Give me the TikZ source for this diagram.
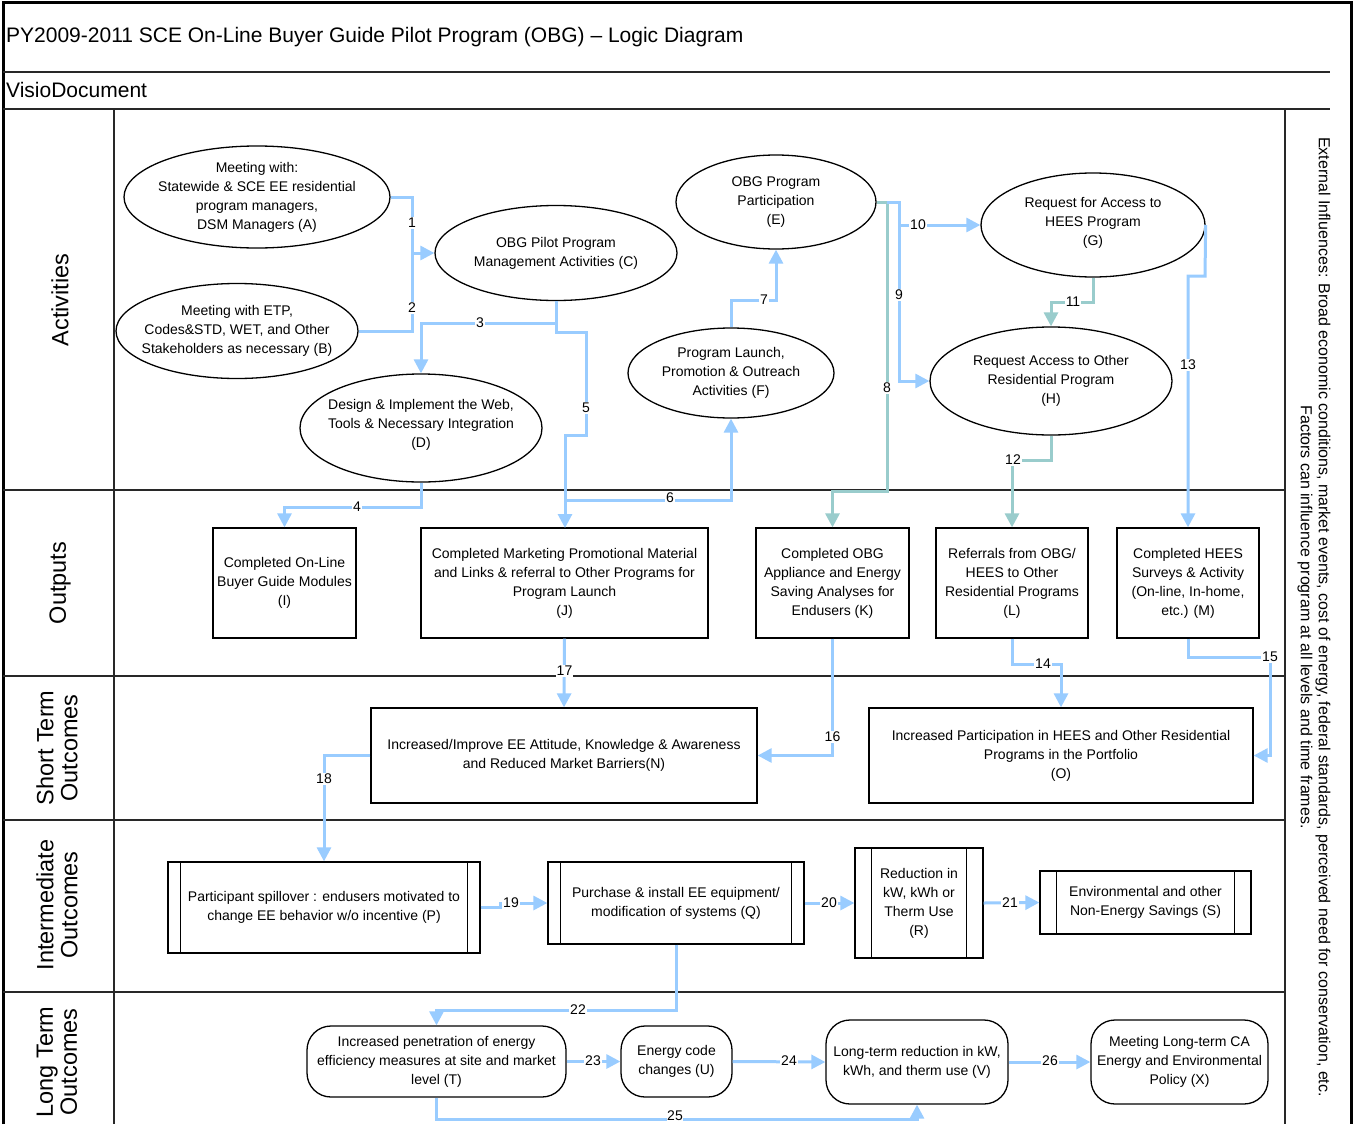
\documentclass[tikz,border=0pt]{standalone}
\usepackage{fontspec}
\setmainfont{Liberation Sans}
\usetikzlibrary{shapes.geometric,arrows.meta,calc}

\definecolor{linkblue}{RGB}{153,204,255}
\definecolor{linkteal}{RGB}{153,204,204}
\definecolor{framegray}{RGB}{40,40,40}

\begin{document}
\begin{tikzpicture}[x=1pt,y=-1pt,
  every node/.style={font=\fontsize{14}{19}\selectfont},
  frame/.style={draw=framegray,line width=1.6pt},
  outer/.style={draw=black,line width=3pt},
  actv/.style={ellipse,draw=black,line width=1.3pt,fill=white,inner sep=0pt},
  txt/.style={align=center,inner sep=0pt},
  outbox/.style={rectangle,draw=black,line width=1.3pt,fill=white,align=center,inner sep=0pt},
  procbox/.style={rectangle,draw=black,line width=1.3pt,fill=white,align=center,inner sep=0pt},
  termbox/.style={rectangle,rounded corners=24pt,draw=black,line width=1.3pt,fill=white,align=center,inner sep=0pt},
  bluelink/.style={draw=linkblue,line width=3pt},
  teallink/.style={draw=linkteal,line width=3pt},
  tip/.style={-{Triangle[length=14pt,width=14pt]}},
  lab/.style={fill=white,inner sep=1pt,font=\fontsize{14}{14}\selectfont},
  lane/.style={rotate=90,align=center,font=\fontsize{23.5}{24}\selectfont}
]
\useasboundingbox (0,0) rectangle (1356,1124);
\fill[white] (0,0) rectangle (1356,1124);

% page frame and header rules
\draw[outer] (3,1124) -- (3,3) -- (1351,3) -- (1351,1124);
\draw[frame] (3,72) -- (1330,72);
\draw[frame] (3,109) -- (1330,109);
\draw[frame] (1285,109) -- (1285,1124);
\draw[frame] (114,109) -- (114,1124);
\foreach \yy in {490,676,820,992} \draw[frame] (3,\yy) -- (1285,\yy);

\node[anchor=west,inner sep=0pt,font=\fontsize{21}{24}\selectfont] (title) at (6,37)
  {PY2009-2011 SCE On-Line Buyer Guide Pilot Program (OBG) – Logic Diagram};
\node[anchor=west,inner sep=0pt,font=\fontsize{21}{24}\selectfont] (doc) at (6,90) {VisioDocument};

% lane headings
\node[lane] (laneA) at (60,300) {Activities};
\node[lane] (laneO) at (60,583) {Outputs};
\node[lane] (laneS) at (57,748) {Short Term\\Outcomes};
\node[lane] (laneI) at (57,905) {Intermediate\\Outcomes};
\node[lane] (laneL) at (57,1062) {Long Term\\Outcomes};

% external influences
\node[rotate=-90,align=center,font=\fontsize{16}{18}\selectfont] (ext) at (1314,617)
  {External Influences: Broad economic conditions, market events, cost of energy, federal standards, perceived need for conservation, etc.\\
   Factors can influence program at all levels and time frames.};

% ---------- connectors ----------
\coordinate (j1) at (412,253);
\coordinate (j6) at (565,500);
\coordinate (e8) at (887,202);
\coordinate (e9) at (899,202);

% activity nodes are placed first so anchors exist
\node[actv,minimum width=266pt,minimum height=102pt] (A) at (257,197) {};
\node[actv,minimum width=242pt,minimum height=95pt] (B) at (237,331) {};
\node[actv,minimum width=242pt,minimum height=95pt] (C) at (556,253) {};
\node[actv,minimum width=242pt,minimum height=108pt] (D) at (421,428) {};
\node[actv,minimum width=200pt,minimum height=94pt] (E) at (776,202) {};
\node[actv,minimum width=206pt,minimum height=90pt] (F) at (731,373) {};
\node[actv,minimum width=224pt,minimum height=104pt] (G) at (1093,225) {};
\node[actv,minimum width=242pt,minimum height=108pt] (H) at (1051,381) {};

\node[outbox,minimum width=143pt,minimum height=110pt] (I) at (284.5,583)
  {Completed On-Line\\Buyer Guide Modules\\(I)};
\node[outbox,minimum width=287pt,minimum height=110pt] (J) at (564.5,583)
  {Completed Marketing Promotional Material\\and Links \& referral to Other Programs for\\Program Launch\\(J)};
\node[outbox,minimum width=153pt,minimum height=110pt] (K) at (832.5,583)
  {Completed OBG\\Appliance and Energy\\Saving Analyses for\\Endusers (K)};
\node[outbox,minimum width=152pt,minimum height=110pt] (L) at (1012,583)
  {Referrals from OBG/\\HEES to Other\\Residential Programs\\(L)};
\node[outbox,minimum width=142pt,minimum height=110pt] (M) at (1188,583)
  {Completed HEES\\Surveys \& Activity\\(On-line, In-home,\\etc.) (M)};

\node[outbox,minimum width=386pt,minimum height=95pt] (N) at (564,755.5)
  {Increased/Improve EE Attitude, Knowledge \& Awareness\\and Reduced Market Barriers(N)};
\node[outbox,minimum width=384pt,minimum height=95pt] (O) at (1061,755.5)
  {Increased Participation in HEES and Other Residential\\Programs in the Portfolio\\(O)};

\node[procbox,minimum width=312pt,minimum height=91pt] (P) at (324,907.5)
  {Participant spillover : endusers motivated to\\change EE behavior w/o incentive (P)};
\node[procbox,minimum width=256pt,minimum height=82pt] (Q) at (676,903)
  {Purchase \& install EE equipment/\\modification of systems (Q)};
\node[procbox,minimum width=128pt,minimum height=110pt] (R) at (919,903)
  {Reduction in\\kW, kWh or\\Therm Use\\(R)};
\node[procbox,minimum width=211pt,minimum height=63pt] (S) at (1145.5,902.5)
  {Environmental and other\\Non-Energy Savings (S)};

\node[termbox,minimum width=259pt,minimum height=71pt] (T) at (436.5,1061.5)
  {Increased penetration of energy\\efficiency measures at site and market\\level (T)};
\node[termbox,minimum width=111pt,minimum height=71pt] (U) at (676.5,1061.5)
  {Energy code\\changes (U)};
\node[termbox,minimum width=182pt,minimum height=84pt] (V) at (917,1062)
  {Long-term reduction in kW,\\kWh, and therm use (V)};
\node[termbox,minimum width=177pt,minimum height=84pt] (X) at (1179.5,1062)
  {Meeting Long-term CA\\Energy and Environmental\\Policy (X)};

% side bars of the process boxes
\foreach \n/\d in {P/13,Q/13,R/17,S/17}{
  \draw[line width=1.3pt] ([xshift=\d pt]\n.north west) -- ([xshift=\d pt]\n.south west);
  \draw[line width=1.3pt] ([xshift=-\d pt]\n.north east) -- ([xshift=-\d pt]\n.south east);
}

% texts inside the activity ellipses
\node[txt] (At) at (A) {Meeting with:\\Statewide \& SCE EE residential\\program managers,\\DSM Managers (A)};
\node[txt] (Bt) at (B) {Meeting with ETP,\\Codes\&STD, WET, and Other\\Stakeholders as necessary (B)};
\node[txt] (Ct) at (C) {OBG Pilot Program\\Management Activities (C)};
\node[txt] (Dt) at ($(D)+(0,-3)$) {Design \& Implement the Web,\\Tools \& Necessary Integration\\(D)};
\node[txt] (Et) at (E) {OBG Program\\Participation\\(E)};
\node[txt] (Ft) at (F) {Program Launch,\\Promotion \& Outreach\\Activities (F)};
\node[txt] (Gt) at ($(G)+(0,-2)$) {Request for Access to\\HEES Program\\(G)};
\node[txt] (Ht) at (H) {Request Access to Other\\Residential Program\\(H)};

% activities
\draw[bluelink,tip] (A.east) -| (j1) -- (C.west);
\draw[bluelink] (B.east) -| (j1);
\draw[bluelink,tip] (C.south) -- (556,323) -| (D.north);
\draw[bluelink,tip] (C.south) -- (556,332) -- (586,332) -- (586,435) -- (565,435) -- (565,528);
\draw[bluelink,tip] (D.south) -- (421,507) -| (I.north);
\draw[bluelink,tip] (j6) -| (F.south);
\draw[bluelink,tip] (F.north) -- (731,300) -| (E.south);
\draw[teallink,tip] (E.east) -- (e8) -- (887,491) -| (K.north);
\draw[bluelink,tip] (e8) -- (e9) |- (H.west);
\draw[bluelink,tip] (899,225) -- (G.west);
\draw[teallink,tip] (G.south) -- (1093,302) -| (H.north);
\draw[teallink,tip] (H.south) -- (1051,460) -| (L.north);
\draw[bluelink,tip] (G.east) -- (1205,276) -- (1188,276) -- (M.north);
% outputs to short term
\draw[bluelink,tip] (L.south) -- (1012,664) -| (O.north);
\draw[bluelink,tip] (M.south) -- (1188,657) -| (1270,755.5) -- (O.east);
\draw[bluelink,tip] (K.south) |- (N.east);
\draw[bluelink,tip] (J.south) -- (N.north);
% short term to intermediate and long term
\draw[bluelink,tip] (N.west) -| (P.north);
\draw[bluelink,tip] (P.east) -- (500,907.5) -- (500,903) -- (Q.west);
\draw[bluelink,tip] (Q.east) -- (R.west);
\draw[bluelink,tip] (R.east) -- (S.west);
\draw[bluelink,tip] (Q.south) -- (676,1010) -| (T.north);
\draw[bluelink,tip] (T.east) -- (U.west);
\draw[bluelink,tip] (U.east) -- (V.west);
\draw[bluelink,tip] (V.east) -- (X.west);
\draw[bluelink,tip] (T.south) -- (436.5,1119) -| (V.south);

% connector numbers
\node[lab] (n1) at (412,223) {1};
\node[lab] (n2) at (412,308) {2};
\node[lab] (n3) at (480,323) {3};
\node[lab] (n4) at (357,507) {4};
\node[lab] (n5) at (586,408) {5};
\node[lab] (n6) at (670,498) {6};
\node[lab] (n7) at (764,300) {7};
\node[lab] (n8) at (887,388) {8};
\node[lab] (n9) at (899,295) {9};
\node[lab] (n10) at (918,225) {10};
\node[lab] (n11) at (1073,302) {11};
\node[lab] (n12) at (1013,460) {12};
\node[lab] (n13) at (1188,365) {13};
\node[lab] (n14) at (1043,664) {14};
\node[lab] (n15) at (1270,657) {15};
\node[lab] (n16) at (832.5,737) {16};
\node[lab] (n17) at (564.5,671) {17};
\node[lab] (n18) at (324,779) {18};
\node[lab] (n19) at (511,903) {19};
\node[lab] (n20) at (829,903) {20};
\node[lab] (n21) at (1010,903) {21};
\node[lab] (n22) at (578,1010) {22};
\node[lab] (n23) at (593,1061) {23};
\node[lab] (n24) at (789,1061) {24};
\node[lab,inner sep=0.5pt] (n25) at (675,1116) {25};
\node[lab] (n26) at (1050,1061) {26};
\end{tikzpicture}
\end{document}
